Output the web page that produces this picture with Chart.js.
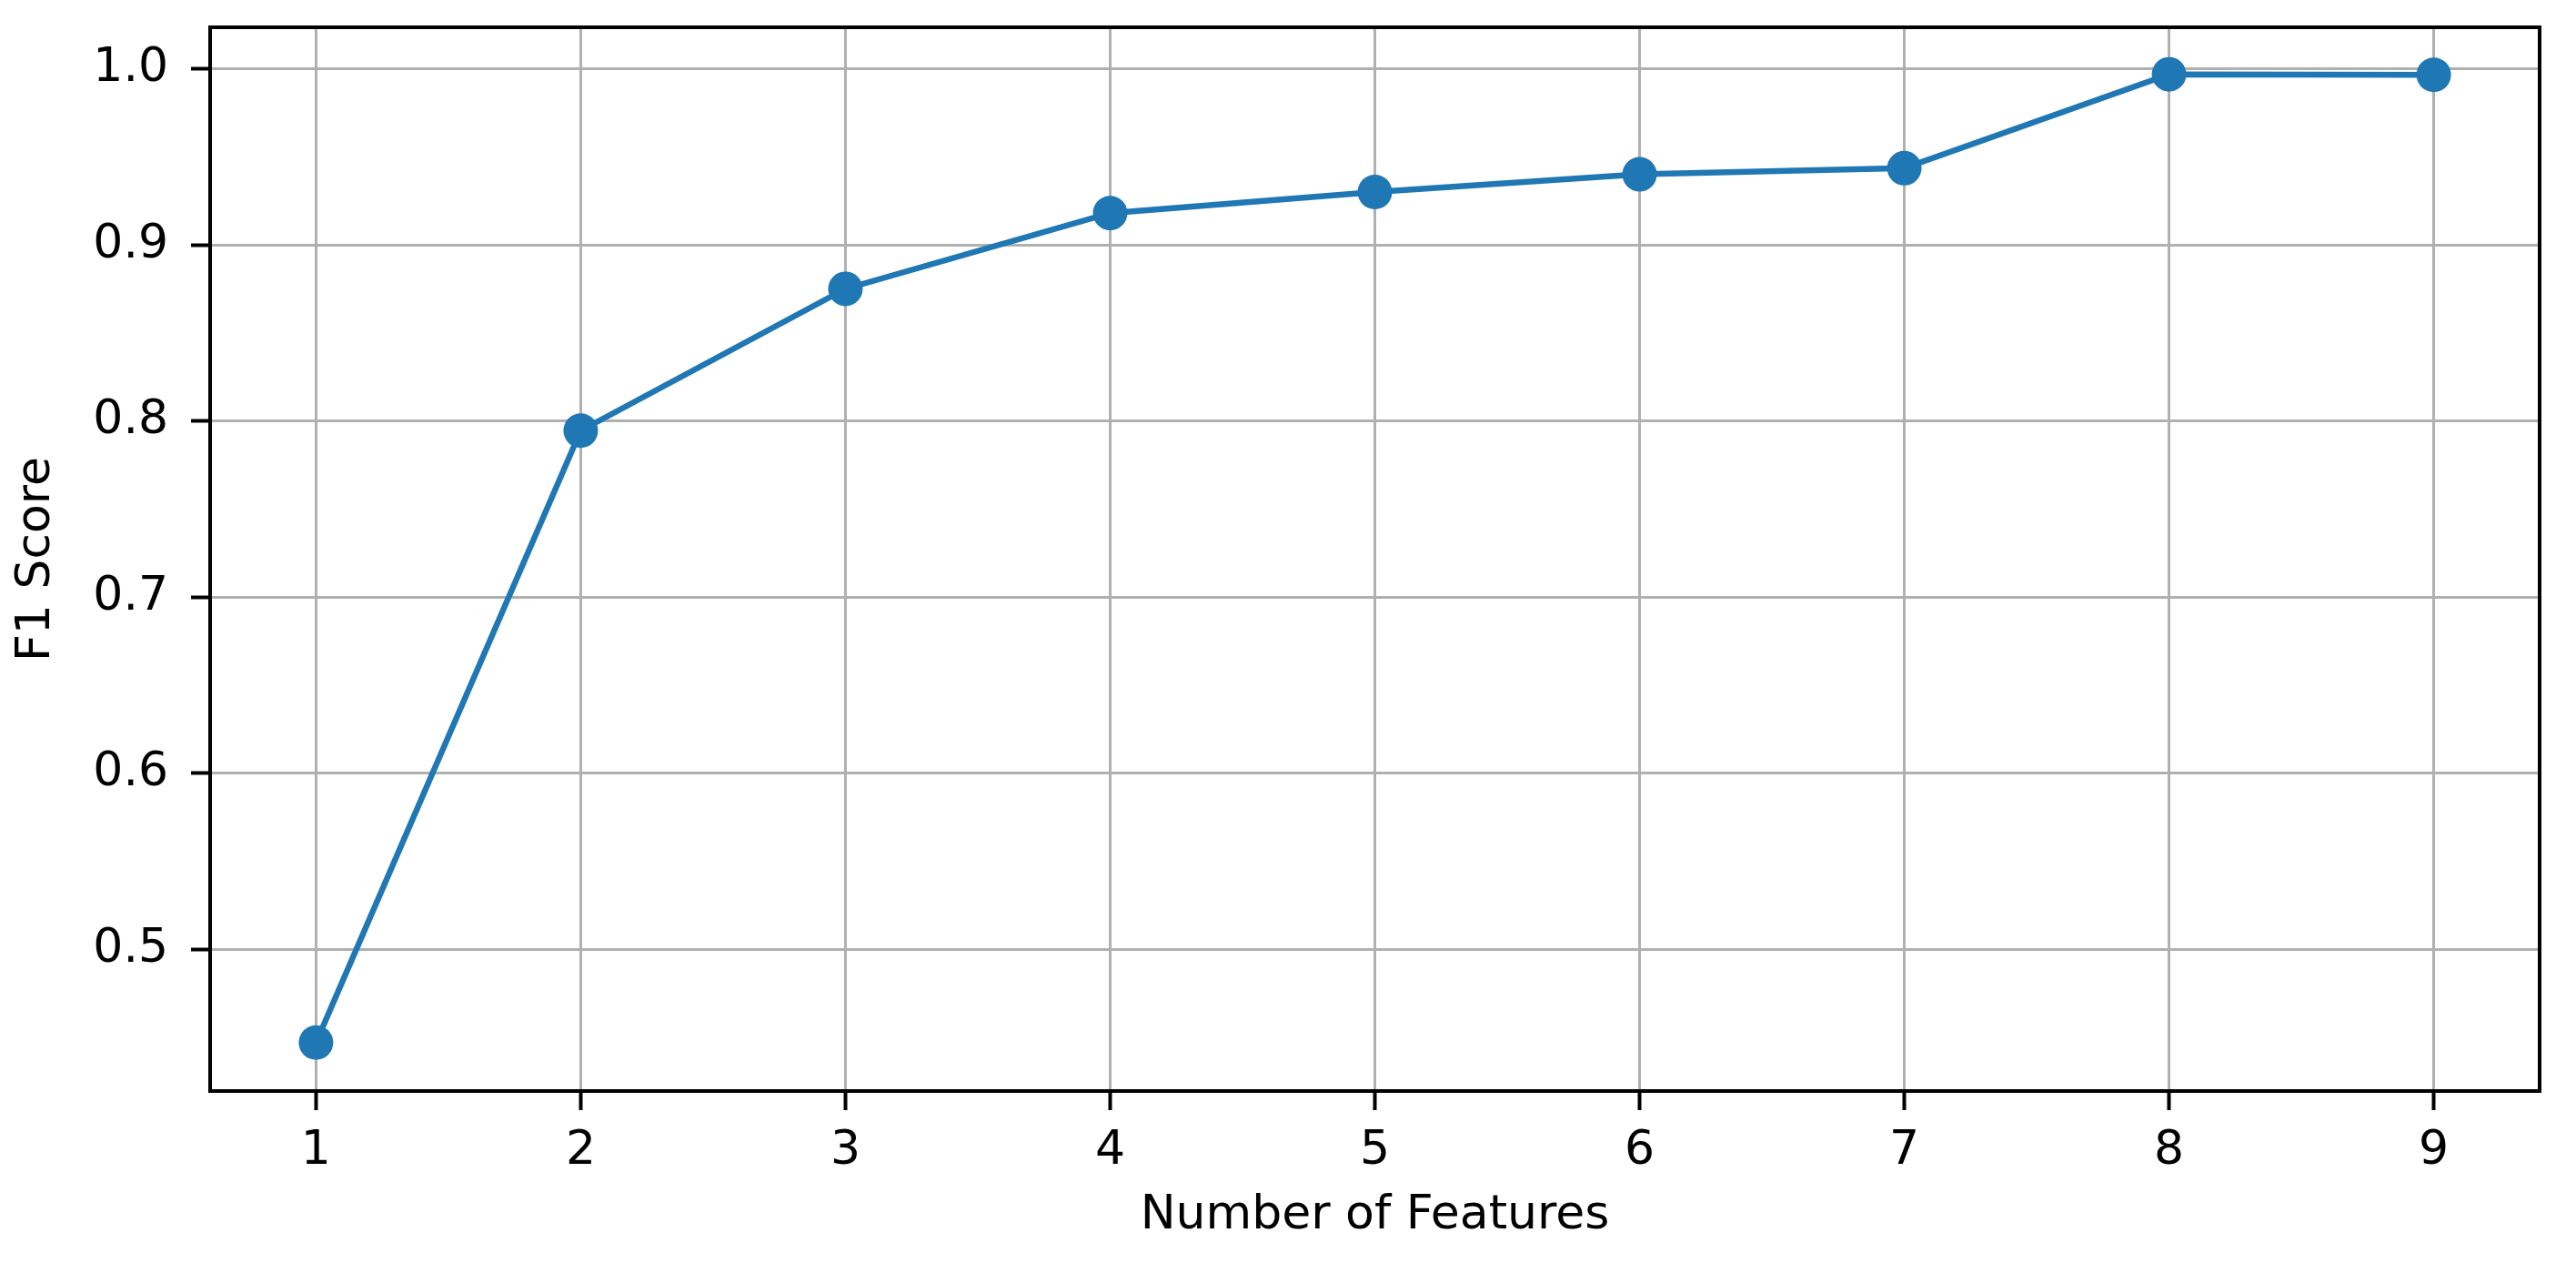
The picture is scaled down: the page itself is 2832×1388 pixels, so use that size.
<!DOCTYPE html>
<html>
<head>
<meta charset="utf-8">
<title>F1 Score vs Number of Features</title>
<script src="https://cdn.jsdelivr.net/npm/chart.js@4.4.1/dist/chart.umd.min.js"></script>
<style>
  html, body { margin: 0; padding: 0; background: #ffffff; }
  canvas { display: block; }
</style>
</head>
<body>
<canvas id="f1-chart" width="2832" height="1388"></canvas>
<script>
// data
let num_features = [1, 2, 3, 4, 5, 6, 7, 8, 9];
let f1_scores = [0.447, 0.7945, 0.875, 0.918, 0.930, 0.940, 0.9435, 0.9968, 0.9965];
let x_ticks = [1, 2, 3, 4, 5, 6, 7, 8, 9];
let y_ticks = [0.5, 0.6, 0.7, 0.8, 0.9, 1.0];

let points = num_features.map((n, i) => ({ x: n, y: f1_scores[i] }));

// black box around the plot, like matplotlib spines
const frame_plugin = {
    id: 'frame',
    afterDraw(chart) {
        let area = chart.chartArea;
        let c = chart.ctx;
        c.save();
        c.strokeStyle = '#000000';
        c.lineWidth = 4;
        c.strokeRect(area.left, area.top, area.right - area.left, area.bottom - area.top);
        c.restore();
    },
};

const tick_font = { family: 'DejaVu Sans', size: 52 };

var ctx = document.getElementById('f1-chart');
var chart = new Chart(ctx, {
    type: 'scatter',
    data: {
        datasets: [
            {
                label: 'F1 Score',
                data: points,
                showLine: true,
                borderColor: '#1f77b4',
                backgroundColor: '#1f77b4',
                borderWidth: 6.5,
                pointRadius: 19,
                pointHoverRadius: 19,
                pointBorderWidth: 0,
                pointBackgroundColor: '#1f77b4',
                tension: 0,
            },
        ],
    },
    options: {
        responsive: false,
        animation: false,
        devicePixelRatio: 1,
        layout: { padding: { left: 0, right: 40, top: 30, bottom: 0 } },
        plugins: {
            legend: { display: false },
            tooltip: { enabled: false },
        },
        scales: {
            x: {
                type: 'linear',
                min: 0.6,
                max: 9.4,
                afterBuildTicks: (axis) => {
                    axis.ticks = x_ticks.map((v) => ({ value: v }));
                },
                afterFit: (axis) => {
                    axis.height = 189;
                    axis.paddingLeft = 0;
                    axis.paddingRight = 0;
                },
                grid: {
                    color: '#b0b0b0',
                    lineWidth: 3,
                    drawTicks: true,
                    tickLength: 21,
                    tickColor: '#000000',
                    tickWidth: 4,
                },
                border: { display: false },
                ticks: {
                    color: '#000000',
                    font: tick_font,
                    padding: 14,
                    maxRotation: 0,
                    autoSkip: false,
                    callback: (v) => String(v),
                },
                title: {
                    display: true,
                    text: 'Number of Features',
                    color: '#000000',
                    font: tick_font,
                    padding: { top: 0, bottom: 20 },
                },
            },
            y: {
                type: 'linear',
                min: 0.4195,
                max: 1.0235,
                afterBuildTicks: (axis) => {
                    axis.ticks = y_ticks.map((v) => ({ value: v }));
                },
                afterFit: (axis) => {
                    axis.width = 231;
                    axis.paddingTop = 0;
                    axis.paddingBottom = 0;
                },
                grid: {
                    color: '#b0b0b0',
                    lineWidth: 3,
                    drawTicks: true,
                    tickLength: 21,
                    tickColor: '#000000',
                    tickWidth: 4,
                },
                border: { display: false },
                ticks: {
                    color: '#000000',
                    font: tick_font,
                    padding: 25,
                    autoSkip: false,
                    callback: (v) => v.toFixed(1),
                },
                title: {
                    display: true,
                    text: 'F1 Score',
                    color: '#000000',
                    font: tick_font,
                    padding: { top: 9, bottom: 0 },
                },
            },
        },
    },
    plugins: [frame_plugin],
});
</script>
</body>
</html>
